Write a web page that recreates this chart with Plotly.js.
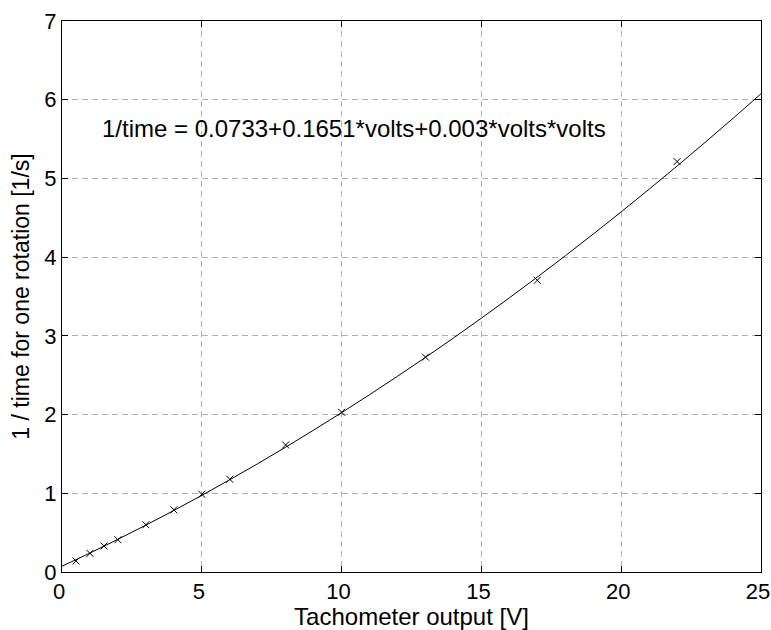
<!DOCTYPE html>
<html>
<head>
<meta charset="utf-8">
<script src="https://cdn.plot.ly/plotly-3.0.1.min.js"></script>
<style>html,body{margin:0;padding:0;background:#fff;}#chart{width:771px;height:630px;}</style>
</head>
<body>
<div id="chart"></div>
<script>
// Measured points
const volts = [0.5, 1, 1.5, 2, 3, 4, 5, 6, 8, 10, 13, 17, 22];
const invTime = [0.14, 0.237, 0.33, 0.41, 0.60, 0.79, 0.987, 1.178, 1.614, 2.03, 2.73, 3.706, 5.214];

// Fitted curve
const fitVolts = [0,1,2,3,4,5,6,7,8,9,10,11,12,13,14,15,16,17,18,19,20,21,22,23,24,25];
const fitInvTime = [0.0733,0.2414,0.4155,0.5956,0.7817,0.9738,1.1719,1.3760,1.5861,1.8022,2.0243,2.2524,2.4865,2.7266,2.9727,3.2248,3.4829,3.7470,4.0171,4.2932,4.5753,4.8634,5.1575,5.4576,5.7637,6.0758];

const xTicks = [0, 5, 10, 15, 20, 25];
const yTicks = [0, 1, 2, 3, 4, 5, 6, 7];
const equationText = "1/time = 0.0733+0.1651*volts+0.003*volts*volts";

const font = "Liberation Sans, Arial, Helvetica, sans-serif";

const traces = [
  {
    x: fitVolts, y: fitInvTime, type: 'scatter', mode: 'lines',
    line: {color: '#000', width: 1, shape: 'spline'},
    hoverinfo: 'skip', showlegend: false
  },
  {
    x: volts, y: invTime, type: 'scatter', mode: 'markers',
    marker: {symbol: 'x-thin', size: 7, color: '#000', line: {color: '#000', width: 1}},
    showlegend: false
  }
];

const axisCommon = {
  showline: true, linecolor: '#000', linewidth: 1, mirror: 'ticks',
  ticks: 'inside', ticklen: 6, tickcolor: '#000', tickwidth: 1,
  showgrid: true, gridcolor: '#b0b0b0', gridwidth: 1, griddash: '6px,4px',
  zeroline: false, tickfont: {family: font, size: 22, color: '#000'},
  automargin: false
};

const layout = {
  width: 771, height: 630,
  margin: {l: 62, r: 10, t: 21, b: 58},
  paper_bgcolor: '#fff', plot_bgcolor: '#fff',
  font: {family: font, color: '#000'},
  xaxis: Object.assign({}, axisCommon, {
    range: [0, 25], tickvals: xTicks, ticktext: xTicks.map(String),
    ticklabelshift: -3, ticklabeloverflow: 'allow',
    title: {text: 'Tachometer output [V]', font: {family: font, size: 24, color: '#000'}, standoff: 6}
  }),
  yaxis: Object.assign({}, axisCommon, {
    range: [0, 7], tickvals: yTicks, ticktext: yTicks.map(String),
    title: {text: '1 / time for one rotation [1/s]', font: {family: font, size: 23, color: '#000'}, standoff: 8}
  }),
  annotations: [{
    x: 1.35, y: 5.64, xref: 'x', yref: 'y', xanchor: 'left', yanchor: 'middle',
    text: equationText, showarrow: false,
    font: {family: font, size: 24, color: '#000'}
  }]
};

Plotly.newPlot('chart', traces, layout, {displayModeBar: false, staticPlot: true});
</script>
</body>
</html>
